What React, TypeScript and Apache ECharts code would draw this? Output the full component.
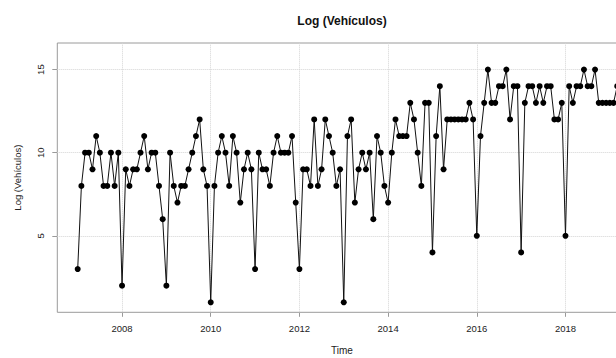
import React, { useEffect, useRef } from "react";
import * as echarts from "echarts";

// Monthly series starting January 2007 (visible part of the reference)
const START_YEAR = 2007;
const values: number[] = [
  3, 8, 10, 10, 9, 11, 10, 8, 8, 10, 8, 10,
  2, 9, 8, 9, 9, 10, 11, 9, 10, 10, 8, 6,
  2, 10, 8, 7, 8, 8, 9, 10, 11, 12, 9, 8,
  1, 8, 10, 11, 10, 8, 11, 10, 7, 9, 10, 9,
  3, 10, 9, 9, 8, 10, 11, 10, 10, 10, 11, 7,
  3, 9, 9, 8, 12, 8, 9, 12, 11, 10, 8, 9,
  1, 11, 12, 7, 9, 10, 9, 10, 6, 11, 10, 8,
  7, 10, 12, 11, 11, 11, 13, 12, 10, 8, 13, 13,
  4, 11, 14, 9, 12, 12, 12, 12, 12, 12, 13, 12,
  5, 11, 13, 15, 13, 13, 14, 14, 15, 12, 14, 14,
  4, 13, 14, 14, 13, 14, 13, 14, 14, 12, 12, 13,
  5, 14, 13, 14, 14, 15, 14, 14, 15, 13, 13, 13,
  13, 13, 14,
];
const times: number[] = values.map((_, i) => START_YEAR + i / 12);

const xTicks: number[] = [2008, 2010, 2012, 2014, 2016, 2018];
const yTicks: number[] = [5, 10, 15];

const TITLE = "Log (Vehículos)";
const X_NAME = "Time";
const Y_NAME = "Log (Vehículos)";

const FONT = "'Liberation Sans', Arial, Helvetica, sans-serif";

export default function App() {
  const ref = useRef<HTMLDivElement>(null);

  useEffect(() => {
    if (!ref.current) return;
    const chart = echarts.init(ref.current, undefined, { renderer: "svg" });
    const pts = times.map((t, i) => [t, values[i]]);
    chart.setOption({
      animation: false,
      backgroundColor: "#ffffff",
      textStyle: { fontFamily: FONT },
      grid: {
        left: 57.3,
        top: 43,
        width: 588,
        height: 269.3,
        show: true,
        borderColor: "#9a9a9a",
        borderWidth: 1,
        containLabel: false,
      },
      graphic: [
        {
          type: "text",
          x: 342,
          y: 21,
          style: {
            text: TITLE,
            textAlign: "center",
            textVerticalAlign: "middle",
            font: `bold 12px ${FONT}`,
            fill: "#111",
          },
        },
        {
          type: "text",
          x: 342,
          y: 350,
          style: {
            text: X_NAME,
            textAlign: "center",
            textVerticalAlign: "middle",
            font: `10px ${FONT}`,
            fill: "#222",
          },
        },
      ],
      xAxis: {
        type: "value",
        min: 2006.54,
        max: 2019.8,
        axisLine: { show: false },
        axisTick: {
          show: true,
          customValues: xTicks,
          length: 4.5,
          lineStyle: { color: "#9a9a9a" },
        },
        axisLabel: {
          customValues: xTicks,
          formatter: (v: number) => String(v),
          fontSize: 9.5,
          color: "#222",
          margin: 11.5,
          fontFamily: FONT,
        },
        splitLine: { show: false },
      },
      yAxis: {
        type: "value",
        min: 0.4,
        max: 16.6,
        name: Y_NAME,
        nameLocation: "middle",
        nameRotate: 90,
        nameGap: 35,
        nameTextStyle: { fontSize: 9.5, color: "#222", fontFamily: FONT },
        axisLine: { show: false },
        axisTick: {
          show: true,
          customValues: yTicks,
          length: 5,
          lineStyle: { color: "#9a9a9a" },
        },
        axisLabel: {
          customValues: yTicks,
          rotate: 90,
          fontSize: 9.5,
          color: "#222",
          margin: 12,
          fontFamily: FONT,
        },
        splitLine: { show: false },
      },
      series: [
        {
          type: "line",
          data: pts,
          z: 1,
          symbol: "none",
          lineStyle: { width: 0, opacity: 0 },
          silent: true,
          markLine: {
            z: 1,
            silent: true,
            symbol: ["none", "none"],
            label: { show: false },
            lineStyle: { type: "dotted", color: "#d4d4d4", width: 1 },
            data: [
              ...yTicks.map((v) => ({ yAxis: v })),
              ...xTicks.map((v) => ({ xAxis: v })),
            ],
          },
        },
        {
          type: "line",
          data: pts,
          z: 3,
          symbol: "circle",
          symbolSize: 6,
          showAllSymbol: true,
          itemStyle: { color: "#000" },
          lineStyle: { color: "#111", width: 1 },
        },
      ],
    });
    return () => chart.dispose();
  }, []);

  return (
    <div
      style={{
        position: "fixed",
        left: 0,
        top: 0,
        width: 616,
        height: 358,
        overflow: "hidden",
        background: "#fff",
      }}
    >
      <div ref={ref} style={{ width: 660, height: 358 }} />
    </div>
  );
}
